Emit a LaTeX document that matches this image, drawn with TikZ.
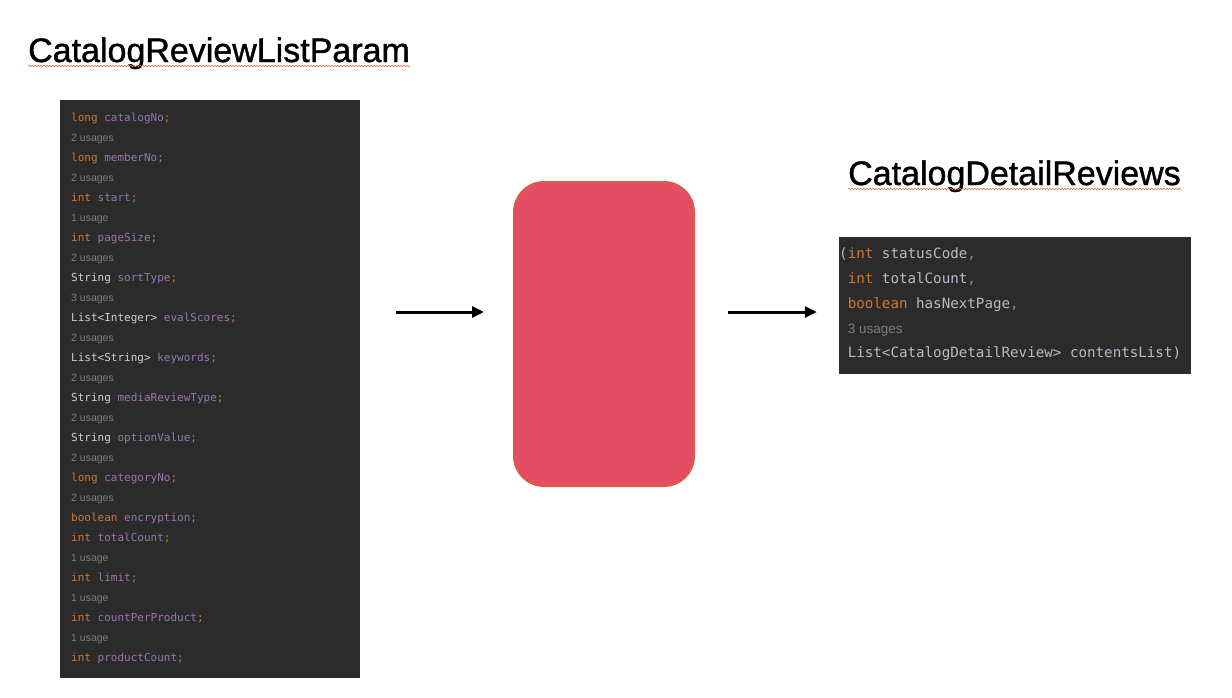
\documentclass[tikz,border=0pt]{standalone}
\usepackage{fontspec}
\setmainfont{Liberation Sans}
\newfontfamily\titlefont[FakeBold=1.2]{Liberation Sans}
\newfontfamily\codefont{DejaVu Sans Mono}
\newfontfamily\hintfont{Liberation Sans}
\usepackage{tikz}
\usetikzlibrary{arrows.meta,decorations.pathmorphing}

\definecolor{panelbg}{HTML}{2B2B2B}
\definecolor{kwcol}{HTML}{CC7832}
\definecolor{fieldcol}{HTML}{9876AA}
\definecolor{typecol}{HTML}{CDD0D4}
\definecolor{identcol}{HTML}{B4BCC6}
\definecolor{hintcol}{HTML}{7C7C7C}
\definecolor{boxfill}{HTML}{E34E65}
\definecolor{boxline}{HTML}{DC5A48}
\definecolor{squig}{HTML}{E8704A}

\newcommand{\kw}[1]{\textcolor{kwcol}{#1}}
\newcommand{\fld}[1]{\textcolor{fieldcol}{#1}}
\newcommand{\ty}[1]{\textcolor{typecol}{#1}}
\newcommand{\idt}[1]{\textcolor{identcol}{#1}}
\newcommand{\hint}[2][10.5]{{\hintfont\fontsize{#1}{#1}\selectfont\color{hintcol}#2}}

\begin{document}
\begin{tikzpicture}[x=1pt,y=-1pt,
  title/.style={anchor=base west,inner sep=0pt,font=\titlefont\fontsize{34}{40}\selectfont},
  panel/.style={fill=panelbg,inner sep=0pt,draw=none},
  codeline/.style={anchor=base west,inner sep=0pt,font=\codefont\fontsize{11}{13}\selectfont},
  bigline/.style={anchor=base west,inner sep=0pt,font=\codefont\fontsize{14.2}{17}\selectfont},
  flow/.style={-{Triangle[length=12pt,width=11pt]},line width=3pt},
  wavy/.style={draw=squig,line width=0.6pt,decorate,
    decoration={snake,amplitude=0.8pt,segment length=3pt}}]
\useasboundingbox (0,0) rectangle (1232,697);

% titles
\node[title] (ltitle) at (28,62) {CatalogReviewListParam};
\node[title] (rtitle) at (848,185) {CatalogDetailReviews};
\draw[wavy] ([yshift=-4pt]ltitle.base west) -- ([yshift=-4pt]ltitle.base east);
\draw[wavy] ([yshift=-4pt]rtitle.base west) -- ([yshift=-4pt]rtitle.base east);

% input fields
\node[panel,minimum width=300pt,minimum height=578pt] (params) at (210,389) {};
\foreach \txt [count=\i from 0] in {
  {\kw{long} \fld{catalogNo}\kw{;}}, {\hint{2 usages}},
  {\kw{long} \fld{memberNo}\kw{;}}, {\hint{2 usages}},
  {\kw{int} \fld{start}\kw{;}}, {\hint{1 usage}},
  {\kw{int} \fld{pageSize}\kw{;}}, {\hint{2 usages}},
  {\ty{String} \fld{sortType}\kw{;}}, {\hint{3 usages}},
  {\ty{List<Integer>} \fld{evalScores}\kw{;}}, {\hint{2 usages}},
  {\ty{List<String>} \fld{keywords}\kw{;}}, {\hint{2 usages}},
  {\ty{String} \fld{mediaReviewType}\kw{;}}, {\hint{2 usages}},
  {\ty{String} \fld{optionValue}\kw{;}}, {\hint{2 usages}},
  {\kw{long} \fld{categoryNo}\kw{;}}, {\hint{2 usages}},
  {\kw{boolean} \fld{encryption}\kw{;}},
  {\kw{int} \fld{totalCount}\kw{;}}, {\hint{1 usage}},
  {\kw{int} \fld{limit}\kw{;}}, {\hint{1 usage}},
  {\kw{int} \fld{countPerProduct}\kw{;}}, {\hint{1 usage}},
  {\kw{int} \fld{productCount}\kw{;}}}
  \node[codeline] (p\i) at (71,{121+20*\i}) {\txt};

% processing step
\node[fill=boxfill,draw=boxline,line width=2pt,rounded corners=30pt,
  minimum width=180pt,minimum height=304pt,inner sep=0pt] (proc) at (604,334) {};

% result record
\node[panel,minimum width=352pt,minimum height=137pt] (result) at (1015,305.5) {};
\node[bigline] (r0) at (839,258) {\idt{(}\kw{int} \idt{statusCode}\kw{,}};
\node[bigline] (r1) at (839,283) {\phantom{(}\kw{int} \idt{totalCount}\kw{,}};
\node[bigline] (r2) at (839,308) {\phantom{(}\kw{boolean} \idt{hasNextPage}\kw{,}};
\node[bigline] (r3) at (839,333) {\phantom{(}\hint[13.5]{3 usages}};
\node[bigline] (r4) at (839,357) {\phantom{(}\idt{List<CatalogDetailReview> contentsList)}};

% arrows
\coordinate (lvl) at (0,312);
\draw[flow,shorten <=36pt,shorten >=29pt] (params.east |- lvl) -- (proc.west |- lvl);
\draw[flow,shorten <=33pt,shorten >=22pt] (proc.east |- lvl) -- (result.west |- lvl);
\end{tikzpicture}
\end{document}
